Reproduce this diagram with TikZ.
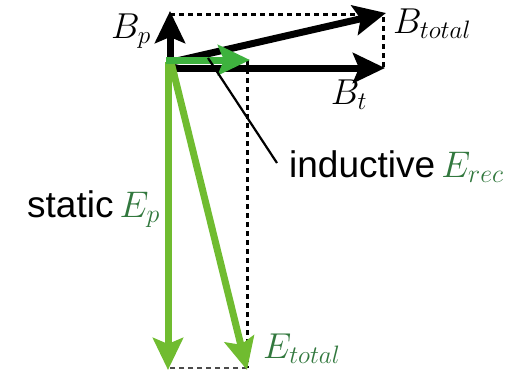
\RequirePackage{fix-cm}
\documentclass[tikz,border=0pt]{standalone}
\usepackage{fontspec}
\setmainfont{Liberation Sans}
\usetikzlibrary{arrows.meta}
\definecolor{egreen}{RGB}{112,188,48}
\definecolor{rgreen}{RGB}{62,178,62}
\definecolor{lgreen}{RGB}{50,120,62}
\tikzset{
  vec/.style={line width=7pt, -{Stealth[length=32pt,width=30pt,inset=6pt]}},
  bvec/.style={vec, black},
  gvec/.style={vec, egreen},
  helper/.style={black, line width=3pt, dash pattern=on 5pt off 4pt},
  leader/.style={black, line width=2.2pt},
  lab/.style={inner sep=0pt, font=\fontsize{37}{41}\selectfont},
  mlab/.style={inner sep=0pt, font=\fontsize{36}{40}\selectfont}
}
\begin{document}
\begin{tikzpicture}[x=1pt,y=-1pt]
\useasboundingbox (0,0) rectangle (528,370);
% coordinates
\coordinate (Bp0) at (170,64);
\coordinate (BpT) at (170,11);
\coordinate (TL) at (170,14);
\coordinate (TR) at (383,14);
\coordinate (BR) at (383,68);
\coordinate (Bto0) at (172,62);
\coordinate (BtoT) at (386,13);
\coordinate (Bt0) at (172,68);
\coordinate (BtT) at (385,68);
\coordinate (Er0) at (166,60);
\coordinate (ErT) at (250,60);
\coordinate (Dv0) at (247,60);
\coordinate (Dv1) at (247,368);
\coordinate (Dh1) at (168,368);
\coordinate (Ep0) at (168,62);
\coordinate (EpT) at (168,370);
\coordinate (Et0) at (171,62);
\coordinate (EtT) at (247,370);
\coordinate (L0) at (208,58);
\coordinate (L1) at (277,163);
% B vectors
\draw[helper] (TL) -- (TR) -- (BR);
\draw[bvec] (Bp0) -- (BpT);
\draw[bvec] (Bto0) -- (BtoT);
\draw[bvec] (Bt0) -- (BtT);
% E vectors
\draw[helper] (Dv0) -- (Dv1);
\draw[helper, line width=2.2pt, black!70] (Dv1) -- (Dh1);
\draw[gvec] (Ep0) -- (EpT);
\draw[gvec] (Et0) -- (EtT);
\draw[vec, rgreen] (Er0) -- (ErT);
\draw[leader] (L0) -- (L1);
% labels
\node[mlab] (lBp) at (131,31) {$B_p$};
\node[mlab, anchor=base west] (lBtot) at (393,33) {$B_{total}$};
\node[mlab, anchor=base] (lBt) at (349,104) {$B_t$};
\node[lab, anchor=base west] (lind) at (289,177) {inductive\,\textcolor{lgreen}{$E_{rec}$}};
\node[lab, anchor=base west] (lsta) at (27,217) {static\,\textcolor{lgreen}{$E_p$}};
\node[mlab, anchor=base west, text=lgreen] (lEt) at (263,358) {$E_{total}$};
\end{tikzpicture}
\end{document}
